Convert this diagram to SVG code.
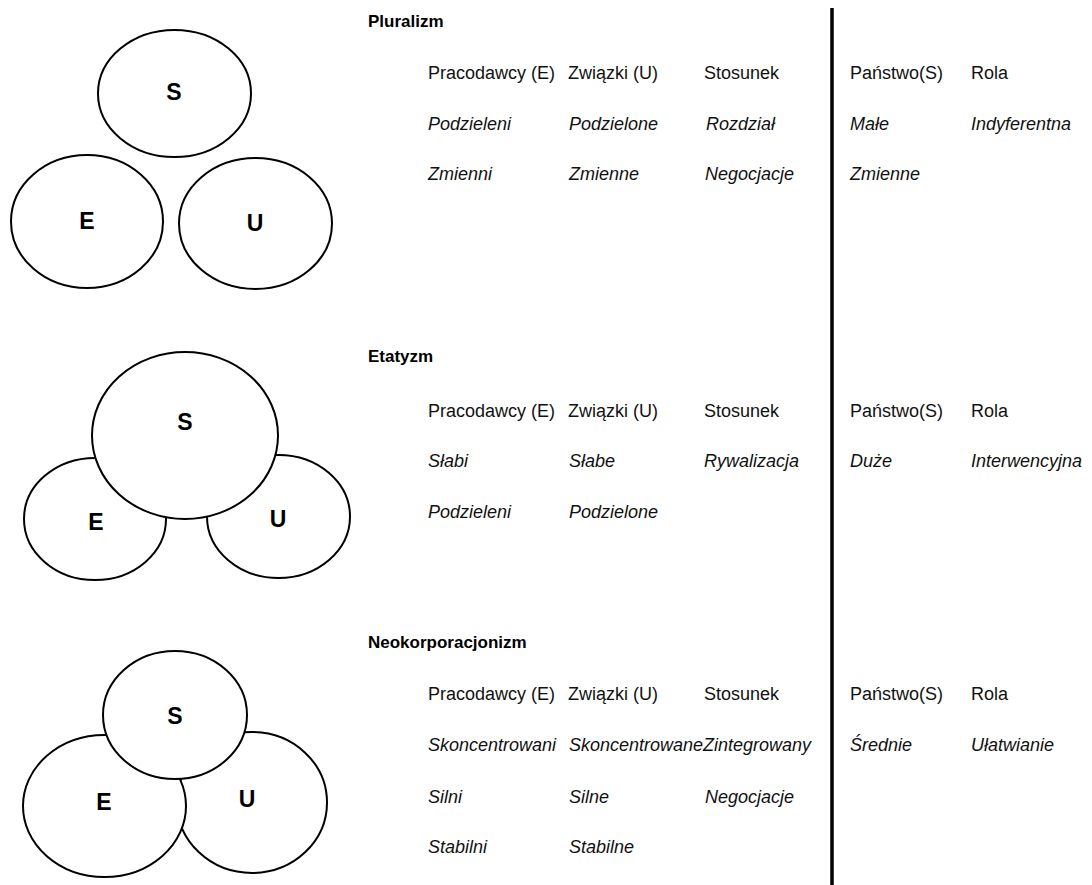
<svg xmlns="http://www.w3.org/2000/svg" width="1092" height="885" viewBox="0 0 1092 885">
<style>
.c{fill:#fff;stroke:#000;stroke-width:2}
.l{font-family:"Liberation Sans",Arial,sans-serif;font-weight:bold;font-size:23px;text-anchor:middle;fill:#000}
.t{font-family:"Liberation Sans",Arial,sans-serif;font-weight:bold;font-size:17px;fill:#000}
.h{font-family:"Liberation Sans",Arial,sans-serif;font-size:18px;fill:#111}
.i{font-family:"Liberation Sans",Arial,sans-serif;font-size:18px;font-style:italic;fill:#111}
</style>
<rect width="1092" height="885" fill="#fff"/>
<g id="pluralizm-diagram">
<ellipse class="c" cx="174.5" cy="93.5" rx="76.5" ry="63.5"/>
<ellipse class="c" cx="87" cy="221.5" rx="76" ry="66.5"/>
<ellipse class="c" cx="255.5" cy="223.5" rx="76.5" ry="65.5"/>
<text class="l" x="174" y="100">S</text>
<text class="l" x="87" y="229">E</text>
<text class="l" x="255" y="231">U</text>
</g>
<g id="etatyzm-diagram">
<ellipse class="c" cx="95" cy="519" rx="71" ry="61"/>
<ellipse class="c" cx="278.5" cy="516.5" rx="71.5" ry="61.5"/>
<ellipse class="c" cx="185" cy="435.5" rx="93" ry="83.5"/>
<text class="l" x="185" y="430">S</text>
<text class="l" x="96" y="530">E</text>
<text class="l" x="278" y="527">U</text>
</g>
<g id="neokorporacjonizm-diagram">
<ellipse class="c" cx="252" cy="802.5" rx="75" ry="70.5"/>
<ellipse class="c" cx="104.5" cy="806" rx="81.5" ry="71"/>
<ellipse class="c" cx="175" cy="715" rx="72" ry="64"/>
<text class="l" x="175" y="724">S</text>
<text class="l" x="104" y="810">E</text>
<text class="l" x="247" y="807">U</text>
</g>
<g id="connectors">
<line x1="832" y1="8" x2="832" y2="885" stroke="#000" stroke-width="3.5"/>
</g>
<g id="pluralizm-table">
<text class="t" x="368" y="27">Pluralizm</text>
<text class="h" x="428" y="79">Pracodawcy (E)</text>
<text class="h" x="568" y="79">Związki (U)</text>
<text class="h" x="704" y="79">Stosunek</text>
<text class="h" x="850" y="79">Państwo(S)</text>
<text class="h" x="971" y="79">Rola</text>
<text class="i" x="428" y="130">Podzieleni</text>
<text class="i" x="569" y="130">Podzielone</text>
<text class="i" x="706" y="130">Rozdział</text>
<text class="i" x="850" y="130">Małe</text>
<text class="i" x="971" y="130">Indyferentna</text>
<text class="i" x="428" y="180">Zmienni</text>
<text class="i" x="569" y="180">Zmienne</text>
<text class="i" x="705" y="180">Negocjacje</text>
<text class="i" x="850" y="180">Zmienne</text>
</g>
<g id="etatyzm-table">
<text class="t" x="368" y="362">Etatyzm</text>
<text class="h" x="428" y="417">Pracodawcy (E)</text>
<text class="h" x="568" y="417">Związki (U)</text>
<text class="h" x="704" y="417">Stosunek</text>
<text class="h" x="850" y="417">Państwo(S)</text>
<text class="h" x="971" y="417">Rola</text>
<text class="i" x="428" y="467">Słabi</text>
<text class="i" x="569" y="467">Słabe</text>
<text class="i" x="704" y="467">Rywalizacja</text>
<text class="i" x="850" y="467">Duże</text>
<text class="i" x="971" y="467">Interwencyjna</text>
<text class="i" x="428" y="518">Podzieleni</text>
<text class="i" x="569" y="518">Podzielone</text>
</g>
<g id="neokorporacjonizm-table">
<text class="t" x="368" y="648">Neokorporacjonizm</text>
<text class="h" x="428" y="700">Pracodawcy (E)</text>
<text class="h" x="568" y="700">Związki (U)</text>
<text class="h" x="704" y="700">Stosunek</text>
<text class="h" x="850" y="700">Państwo(S)</text>
<text class="h" x="971" y="700">Rola</text>
<text class="i" x="428" y="751">Skoncentrowani</text>
<text class="i" x="569" y="751">Skoncentrowane</text>
<text class="i" x="703" y="751">Zintegrowany</text>
<text class="i" x="850" y="751">Średnie</text>
<text class="i" x="971" y="751">Ułatwianie</text>
<text class="i" x="428" y="803">Silni</text>
<text class="i" x="569" y="803">Silne</text>
<text class="i" x="705" y="803">Negocjacje</text>
<text class="i" x="428" y="853">Stabilni</text>
<text class="i" x="569" y="853">Stabilne</text>
</g>
</svg>
